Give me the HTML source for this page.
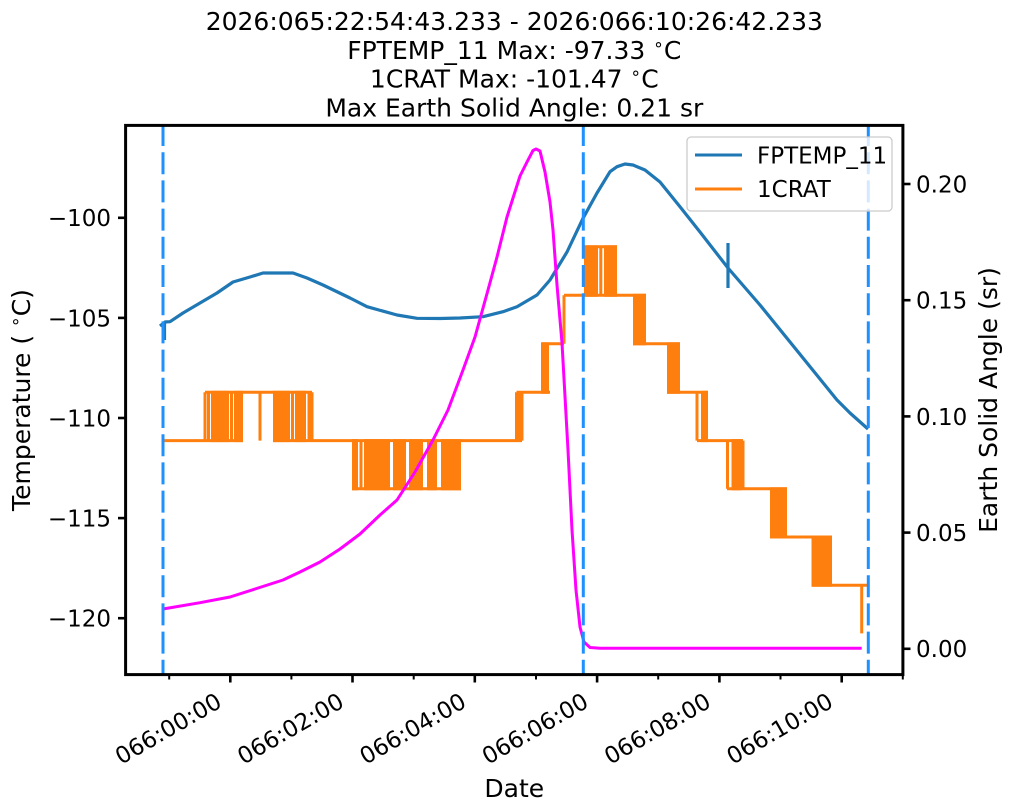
<!DOCTYPE html>
<html><head><meta charset="utf-8"><style>
html,body{margin:0;padding:0;background:#fff;}
svg{display:block;}
text{font-family:"DejaVu Sans","Liberation Sans",sans-serif;fill:#000;}
</style></head><body>
<svg width="1011" height="811" viewBox="0 0 1011 811" xmlns="http://www.w3.org/2000/svg">
<rect width="1011" height="811" fill="#fff"/>

<!-- Title -->
<g font-size="25" text-anchor="middle">
<text x="514.3" y="30">2026:065:22:54:43.233 - 2026:066:10:26:42.233</text>
<text x="514.3" y="58.8">FPTEMP_11 Max: -97.33 <tspan font-size="17" dy="-9">∘</tspan><tspan dy="9">C</tspan></text>
<text x="514.3" y="87.6">1CRAT Max: -101.47 <tspan font-size="17" dy="-9">∘</tspan><tspan dy="9">C</tspan></text>
<text x="514.3" y="116.4">Max Earth Solid Angle: 0.21 sr</text>
</g>

<!-- Blue FPTEMP_11 -->
<g stroke="#1f77b4" stroke-width="3.2" fill="none" stroke-linejoin="round">
<polyline points="160,326 165,322 170,321.7 183,313 200,303 217,293 233,282 250,277 263,273 293,273 307,278 323,285 350,298 367,306.7 397,315 417,318.3 440,318.5 460,318 483,316.7 503,311.7 517,306.7 537,295 550,280 567,252 583,218.3 597,193 610,171.7 617,166.7 625,164 633,165 645,170 660,182 680,206.7 700,232 728,268 760,305 803,358 837,400 850,413 868,429"/>
<path d="M164.5,322 V340 M728,243 V288"/>
</g>

<!-- Orange 1CRAT -->
<g stroke="#ff7f0e" stroke-width="3" fill="none">
<path d="M163,440.6 H243 M273,440.6 H522 M205,392.3 H312 M516.5,392.3 H550 M352,488.8 H461 M542,343.8 H564 M564,295.3 H646 M584,246.8 H617 M633,343.8 H680 M667,392.3 H708 M697,440.6 H743 M727,488.8 H787 M770,537 H832 M812,585.2 H868"/>
<path d="M564,343.8 V295.3 M205,392.3 V440.6 M208.5,392.3 V440.6 M231.5,392.3 V440.6 M260,392.3 V440.6 M292.5,392.3 V440.6 M309,392.3 V440.6 M312,392.3 V440.6 M361,440.6 V488.8 M516.5,392.3 V440.6 M519.5,392.3 V440.6 M522,392.3 V440.6 M600.8,246.8 V295.3 M697,392.3 V440.6 M727.5,440.6 V488.8 M743,440.6 V488.8 M861.7,585.2 V633.4"/>
</g>
<g fill="#ff7f0e">
<rect x="211" y="390.8" width="18" height="51.3"/>
<rect x="234" y="390.8" width="9" height="51.3"/>
<rect x="273" y="390.8" width="17" height="51.3"/>
<rect x="295" y="390.8" width="11" height="51.3"/>
<rect x="352" y="439.1" width="6" height="51.2"/>
<rect x="364" y="439.1" width="26" height="51.2"/>
<rect x="393" y="439.1" width="13" height="51.2"/>
<rect x="409" y="439.1" width="14" height="51.2"/>
<rect x="427" y="439.1" width="10" height="51.2"/>
<rect x="441" y="439.1" width="20" height="51.2"/>
<rect x="541" y="342.3" width="8" height="51.5"/>
<rect x="584" y="245.3" width="14" height="51.5"/>
<rect x="604" y="245.3" width="13" height="51.5"/>
<rect x="633" y="293.8" width="13" height="51.5"/>
<rect x="667" y="342.3" width="13" height="51.5"/>
<rect x="701" y="390.8" width="7" height="51.3"/>
<rect x="731.5" y="439.1" width="10" height="51.2"/>
<rect x="770" y="487.3" width="17" height="51.2"/>
<rect x="811.5" y="535.5" width="20.5" height="51.2"/>
</g>

<!-- Magenta Earth solid angle -->
<polyline fill="none" stroke="#ff00ff" stroke-width="3" stroke-linejoin="round" points="163,609 200,602.7 230,597 255,589 283,580 300,572 320,562 340,549 360,534 380,515 397,500 415,472 433,440 448,410 463,370 475,337 488,290 497,257 507,217 513,198 520,176 527,162 533,150.5 536,149 540,151 545,172 550,202 553,230 557,285 562,343 568,450 572,530 576,590 580,627 584,642 590,647.5 600,648.3 861.7,648.3"/>

<!-- Dashed verticals -->
<g stroke="#1e90ff" stroke-width="3" stroke-dasharray="22 6.2">
<line x1="163" y1="124" x2="163" y2="674.5"/>
<line x1="583.3" y1="124" x2="583.3" y2="674.5"/>
<line x1="868.3" y1="124" x2="868.3" y2="674.5"/>
</g>

<!-- Legend -->
<rect x="687" y="137" width="205" height="74" rx="4" ry="4" fill="#fff" fill-opacity="0.8" stroke="#cccccc" stroke-width="1.3"/>
<line x1="695" y1="155" x2="742" y2="155" stroke="#1f77b4" stroke-width="3"/>
<line x1="695" y1="189" x2="742" y2="189" stroke="#ff7f0e" stroke-width="3"/>
<text x="757" y="163.3" font-size="23">FPTEMP_11</text>
<text x="757" y="197" font-size="23">1CRAT</text>

<!-- Axes frame -->
<rect x="125.6" y="125.4" width="777.3" height="549.2" fill="none" stroke="#000" stroke-width="3"/>

<!-- Left y ticks -->
<g stroke="#000" stroke-width="2.6">
<line x1="118" y1="217.8" x2="125" y2="217.8"/>
<line x1="118" y1="317.9" x2="125" y2="317.9"/>
<line x1="118" y1="418" x2="125" y2="418"/>
<line x1="118" y1="518.1" x2="125" y2="518.1"/>
<line x1="118" y1="618.2" x2="125" y2="618.2"/>
</g>
<g font-size="23" text-anchor="end">
<text x="111" y="226.2">−100</text>
<text x="111" y="326.3">−105</text>
<text x="111" y="426.4">−110</text>
<text x="111" y="526.5">−115</text>
<text x="111" y="626.6">−120</text>
</g>

<!-- Right y ticks -->
<g stroke="#000" stroke-width="2.6">
<line x1="903" y1="184" x2="910.5" y2="184"/>
<line x1="903" y1="300.2" x2="910.5" y2="300.2"/>
<line x1="903" y1="416.4" x2="910.5" y2="416.4"/>
<line x1="903" y1="532.6" x2="910.5" y2="532.6"/>
<line x1="903" y1="648.8" x2="910.5" y2="648.8"/>
</g>
<g font-size="23" text-anchor="start">
<text x="916" y="192.4">0.20</text>
<text x="916" y="308.6">0.15</text>
<text x="916" y="424.8">0.10</text>
<text x="916" y="541">0.05</text>
<text x="916" y="657.2">0.00</text>
</g>

<!-- X ticks -->
<g stroke="#000" stroke-width="2.6">
<line x1="230.3" y1="675" x2="230.3" y2="682.5"/>
<line x1="352.5" y1="675" x2="352.5" y2="682.5"/>
<line x1="474.8" y1="675" x2="474.8" y2="682.5"/>
<line x1="597.1" y1="675" x2="597.1" y2="682.5"/>
<line x1="719.4" y1="675" x2="719.4" y2="682.5"/>
<line x1="841.7" y1="675" x2="841.7" y2="682.5"/>
</g>
<g stroke="#000" stroke-width="2">
<line x1="169.2" y1="675" x2="169.2" y2="679.5"/>
<line x1="291.4" y1="675" x2="291.4" y2="679.5"/>
<line x1="413.7" y1="675" x2="413.7" y2="679.5"/>
<line x1="536" y1="675" x2="536" y2="679.5"/>
<line x1="658.2" y1="675" x2="658.2" y2="679.5"/>
<line x1="780.5" y1="675" x2="780.5" y2="679.5"/>
<line x1="902.8" y1="675" x2="902.8" y2="679.5"/>
</g>
<g font-size="23" text-anchor="end">
<text transform="translate(223.3,706) rotate(-30)">066:00:00</text>
<text transform="translate(345.5,706) rotate(-30)">066:02:00</text>
<text transform="translate(467.8,706) rotate(-30)">066:04:00</text>
<text transform="translate(590.1,706) rotate(-30)">066:06:00</text>
<text transform="translate(712.4,706) rotate(-30)">066:08:00</text>
<text transform="translate(834.7,706) rotate(-30)">066:10:00</text>
</g>

<!-- Axis labels -->
<text x="514.3" y="797" font-size="25" text-anchor="middle">Date</text>
<text transform="translate(30,400) rotate(-90)" font-size="25" text-anchor="middle">Temperature ( <tspan font-size="17" dy="-9">∘</tspan><tspan dy="9">C)</tspan></text>
<text transform="translate(997,400) rotate(-90)" font-size="25" text-anchor="middle">Earth Solid Angle (sr)</text>
</svg>
</body></html>
